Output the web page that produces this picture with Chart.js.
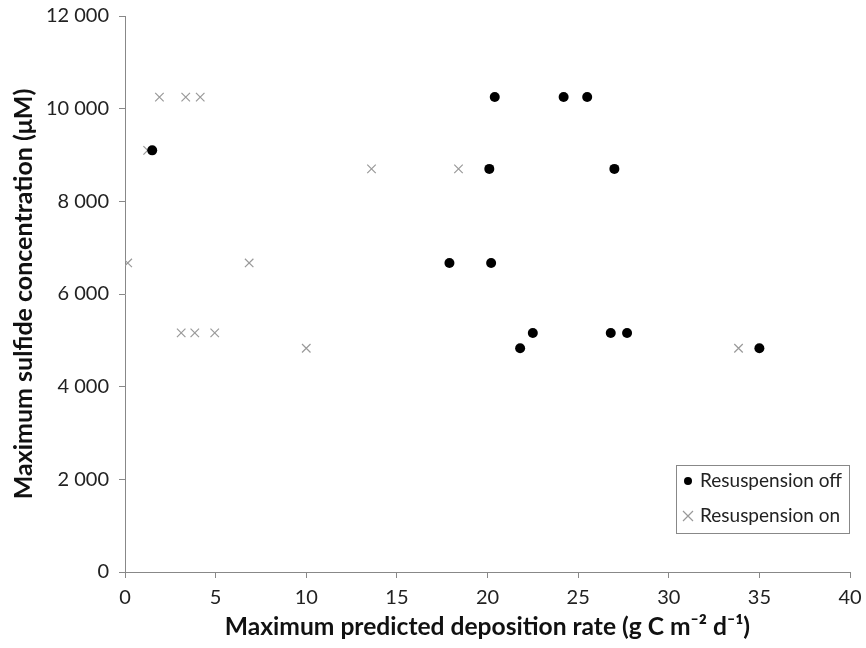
<!DOCTYPE html>
<html>
<head>
<meta charset="utf-8">
<script src="https://cdn.jsdelivr.net/npm/chart.js@4/dist/chart.umd.min.js"></script>
<style>
  html, body { margin: 0; padding: 0; background: #fff; }
  #wrap { width: 866px; height: 648px; position: relative; }
</style>
</head>
<body>
<div id="wrap"><canvas id="c" width="866" height="648"></canvas></div>
<script>
// values
const offX = [1.5, 20.4, 24.2, 25.5, 20.1, 27.0, 17.9, 20.2, 22.5, 21.8, 26.8, 27.7, 35.0];
const offY = [9100, 10250, 10250, 10250, 8700, 8700, 6670, 6670, 5160, 4830, 5160, 5160, 4830];
const onX = [1.9, 3.35, 4.15, 1.25, 13.6, 18.4, 0.15, 6.85, 3.1, 3.85, 4.95, 10.0, 33.85];
const onY = [10250, 10250, 10250, 9100, 8700, 8700, 6670, 6670, 5160, 5160, 5160, 4830, 4830];
const seriesNames = ['Resuspension off', 'Resuspension on'];

const FONT = 'Lato, "Open Sans", sans-serif';
const toPts = (xs, ys) => xs.map((x, i) => ({ x: x, y: ys[i] }));
const fmt = v => String(v).replace(/\B(?=(\d{3})+(?!\d))/g, ' ');

// legend box drawn inside the plot, bottom right
const boxLegend = {
  id: 'boxLegend',
  afterDraw(chart) {
    const ctx = chart.ctx;
    const x0 = 676, y0 = 465, w = 173, h = 68;
    ctx.save();
    ctx.fillStyle = '#fff';
    ctx.fillRect(x0, y0, w, h);
    ctx.strokeStyle = '#888';
    ctx.lineWidth = 1;
    ctx.strokeRect(x0 + 0.5, y0 + 0.5, w, h);
    ctx.font = '19px ' + FONT;
    ctx.textBaseline = 'middle';
    chart.data.datasets.forEach((ds, i) => {
      const cy = y0 + 16 + i * 35;
      const cx = x0 + 12;
      if (ds.pointStyle === 'circle') {
        ctx.fillStyle = '#000';
        ctx.beginPath(); ctx.arc(cx, cy, 4, 0, Math.PI * 2); ctx.fill();
      } else {
        ctx.strokeStyle = '#999'; ctx.lineWidth = 1.2;
        ctx.beginPath();
        ctx.moveTo(cx - 5, cy - 5); ctx.lineTo(cx + 5, cy + 5);
        ctx.moveTo(cx + 5, cy - 5); ctx.lineTo(cx - 5, cy + 5);
        ctx.stroke();
      }
      ctx.fillStyle = '#222';
      ctx.fillText(ds.label, cx + 12, cy);
    });
    ctx.restore();
  }
};

new Chart(document.getElementById('c'), {
  type: 'scatter',
  data: {
    datasets: [
      { label: seriesNames[0], data: toPts(offX, offY), pointStyle: 'circle', pointRadius: 5,
        backgroundColor: '#000', borderColor: '#000', borderWidth: 0 },
      { label: seriesNames[1], data: toPts(onX, onY), pointStyle: 'crossRot', pointRadius: 6,
        backgroundColor: '#999', borderColor: '#999', borderWidth: 1.2 }
    ]
  },
  options: {
    responsive: false, animation: false,
    layout: { padding: { top: 16, right: 16, left: 0, bottom: 0 } },
    plugins: { legend: { display: false }, tooltip: { enabled: false } },
    scales: {
      x: {
        type: 'linear', min: 0, max: 40,
        ticks: { stepSize: 5, color: '#222', font: { family: FONT, size: 20 }, padding: 8, maxRotation: 0 },
        grid: { drawOnChartArea: false, drawTicks: true, tickLength: 6, color: '#888' },
        border: { color: '#888', width: 1 },
        title: { display: true, text: 'Maximum predicted deposition rate (g C m\u207B\u00B2 d\u207B\u00B9)',
          color: '#111', font: { family: FONT, size: 24.6, weight: 'bold' }, padding: { top: 6, bottom: 6 } },
        afterFit(s) { s.height = 76; s.paddingLeft = 0; s.paddingRight = 0; }
      },
      y: {
        type: 'linear', min: 0, max: 12000,
        ticks: { stepSize: 2000, color: '#222', font: { family: FONT, size: 20 }, padding: 10,
          callback: v => fmt(v) },
        grid: { drawOnChartArea: false, drawTicks: true, tickLength: 6, color: '#888' },
        border: { color: '#888', width: 1 },
        title: { display: true, text: 'Maximum sulfide concentration (\u03BCM)',
          color: '#111', font: { family: FONT, size: 25, weight: 'bold' }, padding: { top: 9, bottom: 9 } },
        afterFit(s) { s.width = 125; s.paddingTop = 0; s.paddingBottom = 0; }
      }
    }
  },
  plugins: [boxLegend]
});
</script>
</body>
</html>
